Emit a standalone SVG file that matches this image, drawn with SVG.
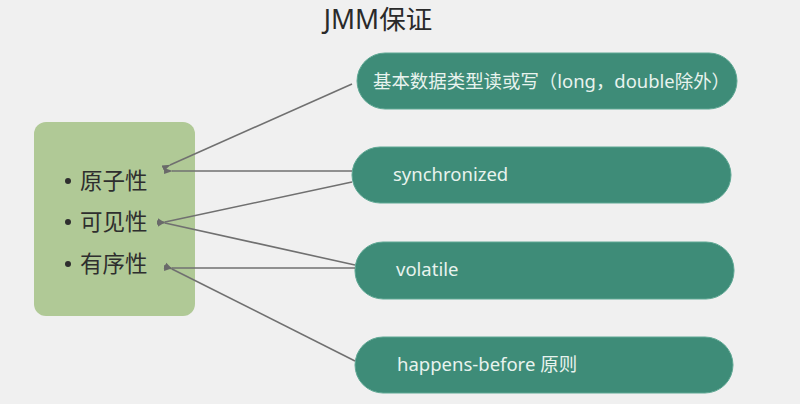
<svg xmlns="http://www.w3.org/2000/svg" width="800" height="404" viewBox="0 0 800 404">
<defs>
<marker id="ah" viewBox="0 0 10 10" refX="1" refY="5" markerWidth="5.5" markerHeight="5.5" orient="auto">
<path d="M10,1.5 L0,5 L10,8.5 Z" fill="#6a6a6a"/>
</marker>
<style>
.pill{fill:#3e8c78;stroke:#5fa894;stroke-width:1}
.pt{font-family:"Noto Sans","Noto Sans CJK SC",sans-serif;font-size:18.5px;fill:#e8f3ee}
.lt{font-family:"Noto Sans CJK SC","Noto Sans",sans-serif;font-size:22.5px;fill:#2e2e2e}
.c{stroke:#707070;stroke-width:1.6;fill:none;marker-end:url(#ah)}
</style>
</defs>
<rect width="800" height="404" fill="#f0f0f0"/>
<text x="378" y="29" text-anchor="middle" font-family="'Noto Sans','Noto Sans CJK SC',sans-serif" font-size="26.5" fill="#2a2a2a">JMM保证</text>
<g id="props">
<rect x="34" y="122" width="161" height="194" rx="12" fill="#b0c996"/>
<circle cx="68" cy="181" r="3" fill="#2e2e2e"/>
<text class="lt" x="80" y="189">原子性</text>
<circle cx="68" cy="222" r="3" fill="#2e2e2e"/>
<text class="lt" x="80" y="230">可见性</text>
<circle cx="68" cy="264" r="3" fill="#2e2e2e"/>
<text class="lt" x="80" y="272">有序性</text>
</g>
<g id="n1">
<rect class="pill" x="357" y="53" width="380" height="56" rx="28"/>
<text class="pt" x="373" y="88" textLength="357" lengthAdjust="spacingAndGlyphs">基本数据类型读或写（long，double除外）</text>
</g>
<g id="n2">
<rect class="pill" x="352" y="147" width="379" height="56" rx="28"/>
<text class="pt" x="393" y="181">synchronized</text>
</g>
<g id="n3">
<rect class="pill" x="355" y="242" width="379" height="57" rx="28"/>
<text class="pt" x="396" y="276">volatile</text>
</g>
<g id="n4">
<rect class="pill" x="355" y="337" width="378" height="56" rx="28"/>
<text class="pt" x="397" y="371">happens-before 原则</text>
</g>
<g id="connectors">
<line class="c" x1="352" y1="84" x2="170" y2="165"/>
<line class="c" x1="352" y1="171" x2="172" y2="171"/>
<line class="c" x1="352" y1="182" x2="165" y2="222"/>
<line class="c" x1="355" y1="265" x2="165" y2="223"/>
<line class="c" x1="355" y1="268" x2="172" y2="268"/>
<line class="c" x1="355" y1="361" x2="172" y2="269"/>
</g>
</svg>
